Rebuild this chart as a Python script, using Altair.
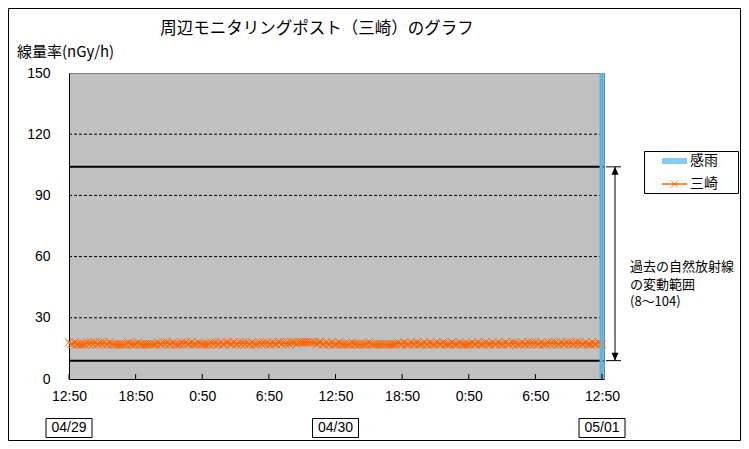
import json
import altair as alt
import pandas as pd

# ---------------- data ----------------
title_text = "周辺モニタリングポスト（三崎）のグラフ"
y_title = "線量率(nGy/h)"
series_name = "三崎"
rain_name = "感雨"
range_text = "過去の自然放射線\nの変動範囲\n(8～104)"

x_tick_hours = [0, 6, 12, 18, 24, 30, 36, 42, 48]
x_tick_labels = ["12:50", "18:50", "0:50", "6:50", "12:50", "18:50", "0:50", "6:50", "12:50"]
date_hours = [0, 24, 48]
date_labels = ["04/29", "04/30", "05/01"]
y_ticks = [0, 30, 60, 90, 120, 150]
grid_values = [30, 60, 90, 120]
range_lines = [9, 104]

rain_hours = [48]
rain_values = [150]

# 10-minute readings, 04/29 12:50 -> 05/01 12:50 (one row = one hour)
misaki = [
    18, 17, 17, 18, 17, 17,
    17, 17, 17, 17, 18, 17,
    18, 17, 18, 17, 17, 18,
    17, 18, 17, 17, 18, 17,
    17, 17, 17, 17, 17, 17,
    17, 17, 18, 17, 17, 17,
    17, 18, 17, 17, 17, 17,
    17, 17, 17, 17, 17, 17,
    18, 17, 17, 18, 17, 18,
    17, 17, 18, 17, 17, 17,
    17, 18, 17, 18, 17, 17,
    18, 17, 17, 17, 18, 17,
    17, 17, 17, 17, 17, 18,
    17, 18, 17, 17, 18, 17,
    17, 18, 18, 17, 17, 18,
    17, 17, 18, 17, 18, 17,
    18, 17, 17, 18, 17, 17,
    17, 18, 17, 18, 17, 18,
    17, 17, 18, 17, 17, 18,
    18, 17, 18, 17, 18, 17,
    18, 18, 18, 17, 18, 18,
    18, 18, 18, 18, 18, 18,
    18, 18, 17, 18, 18, 17,
    17, 18, 17, 17, 18, 17,
    17, 17, 18, 17, 17, 17,
    17, 17, 17, 18, 17, 17,
    17, 17, 17, 17, 17, 17,
    18, 17, 17, 17, 17, 17,
    17, 17, 17, 17, 17, 17,
    17, 17, 17, 17, 18, 17,
    17, 18, 17, 17, 17, 18,
    17, 17, 18, 17, 17, 17,
    18, 17, 17, 18, 17, 17,
    17, 18, 17, 17, 18, 17,
    17, 17, 17, 18, 17, 17,
    17, 18, 17, 17, 17, 17,
    17, 17, 18, 17, 17, 18,
    17, 17, 17, 18, 17, 17,
    17, 18, 17, 17, 18, 17,
    17, 17, 18, 17, 17, 18,
    17, 18, 17, 17, 17, 18,
    17, 17, 18, 17, 18, 17,
    18, 17, 17, 18, 17, 17,
    17, 18, 17, 18, 17, 18,
    17, 17, 18, 17, 17, 18,
    17, 18, 17, 17, 18, 17,
    18, 17, 17, 18, 17, 17,
    17, 18, 17, 17, 18, 17,
    17,
]

# ---------------- tables ----------------
line_df = pd.DataFrame({"h": [i / 6 for i in range(len(misaki))], "v": misaki})
rain_df = pd.DataFrame({"h": rain_hours, "v": rain_values})
grid_df = pd.DataFrame({"v": grid_values})
range_df = pd.DataFrame({"v": range_lines})
tick_df = pd.DataFrame({"h": x_tick_hours})
date_df = pd.DataFrame({"h": date_hours, "t": date_labels})
one = pd.DataFrame({"a": [0]})

W, H = 535, 306
SVG_W, SVG_H = 733, 433
PL, PT = 61, 65
XMAX = 48.18
ORANGE = "#FF6600"
XPATH = "M-1,-1L1,1M-1,1L1,-1"
CJK = "Noto Sans CJK JP"
LAT = "Liberation Sans"

xs = alt.Scale(domain=[0, XMAX], nice=False, zero=False)
ys = alt.Scale(domain=[0, 150], nice=False)

label_expr = json.dumps(x_tick_labels) + "[round(datum.value / 6)]"
x_axis = alt.Axis(values=x_tick_hours, labelExpr=label_expr, ticks=False, tickSize=0,
                  grid=False, domainColor="black", labelFont=LAT, labelFontSize=14,
                  labelColor="black", labelPadding=10, title=None, labelAngle=0,
                  labelFlush=False, labelOverlap=False)
y_axis = alt.Axis(values=y_ticks, ticks=False, tickSize=0, grid=False, domainColor="black",
                  labelFont=LAT, labelFontSize=14, labelColor="black", labelPadding=19,
                  title=None, labelOverlap=False)


def X():
    return alt.X("h:Q", scale=xs, axis=x_axis)


def Y():
    return alt.Y("v:Q", scale=ys, axis=y_axis)


grid = alt.Chart(grid_df).mark_rule(color="black", strokeWidth=1, strokeDash=[3, 2]).encode(
    y=Y(), x=alt.value(0), x2=alt.value(W))

ranges = alt.Chart(range_df).mark_rule(color="black", strokeWidth=2).encode(
    y=Y(), x=alt.value(0), x2=alt.value(W))

xticks = alt.Chart(tick_df).mark_rule(color="black", strokeWidth=1).encode(
    x=X(), y=alt.value(H), y2=alt.value(H - 5))

line = alt.Chart(line_df).mark_line(color=ORANGE, strokeWidth=2).encode(x=X(), y=Y())

points = alt.Chart(line_df).mark_point(shape=XPATH, size=64, color=ORANGE, strokeWidth=1,
                                       filled=False, opacity=1).encode(x=X(), y=Y())

rain = alt.Chart(rain_df).mark_rect(color="#5AB6DE", xOffset=-2.5, x2Offset=1.5).encode(
    x=X(), x2=alt.X2("h:Q"), y=Y(), y2=alt.datum(0))

# range annotation (arrow)
AX = 546
arrow_line = alt.Chart(range_df).mark_line(color="black", strokeWidth=1).encode(
    x=alt.value(AX), y=Y())
arrow_caps = alt.Chart(range_df).mark_rule(color="black", strokeWidth=1).encode(
    y=Y(), x=alt.value(AX - 9), x2=alt.value(AX + 6))
head_up = alt.Chart(range_df[range_df.v == range_lines[1]]).mark_point(
    shape="M0,0L-0.7,1.6L0.7,1.6Z", size=100, filled=True, color="black", opacity=1).encode(
    x=alt.value(AX), y=Y())
head_down = alt.Chart(range_df[range_df.v == range_lines[0]]).mark_point(
    shape="M0,0L-0.7,-1.6L0.7,-1.6Z", size=100, filled=True, color="black", opacity=1).encode(
    x=alt.value(AX), y=Y())
range_label = alt.Chart(one).mark_text(font=CJK, fontSize=13, align="left", baseline="middle",
                                       lineBreak="\n", lineHeight=17.5, color="black").encode(
    x=alt.value(561), y=alt.value(194), text=alt.value(range_text))

# date boxes
date_box = alt.Chart(date_df).mark_rect(fill="white", stroke="black", strokeWidth=1,
                                        xOffset=-23, x2Offset=23).encode(
    x=X(), x2=alt.X2("h:Q"), y=alt.value(345.5), y2=alt.value(364.5))
date_txt = alt.Chart(date_df).mark_text(font=LAT, fontSize=14, baseline="middle",
                                        color="black").encode(
    x=X(), y=alt.value(355), text="t:N")

# titles
title = alt.Chart(one).mark_text(font=CJK, fontSize=16.5, baseline="middle", align="center",
                                 color="black").encode(
    x=alt.value(248), y=alt.value(-44), text=alt.value(title_text))
ytitle = alt.Chart(one).mark_text(font=CJK, fontSize=15, baseline="middle", align="left",
                                  color="black").encode(
    x=alt.value(-52), y=alt.value(-21), text=alt.value(y_title))

# legend
LX = 575
leg_box = alt.Chart(one).mark_rect(fill="white", stroke="black", strokeWidth=1).encode(
    x=alt.value(LX + 0.5), x2=alt.value(LX + 94.5), y=alt.value(78.5), y2=alt.value(120.5))
leg_rain = alt.Chart(one).mark_rect(color="#7FCFF4").encode(
    x=alt.value(LX + 18), x2=alt.value(LX + 43), y=alt.value(85), y2=alt.value(91))
leg_line = alt.Chart(one).mark_rule(color=ORANGE, strokeWidth=1.5).encode(
    x=alt.value(LX + 18), x2=alt.value(LX + 43), y=alt.value(111))
leg_mark = alt.Chart(one).mark_point(shape=XPATH, size=49, color=ORANGE, strokeWidth=1,
                                     filled=False, opacity=1).encode(
    x=alt.value(LX + 30.5), y=alt.value(111))
leg_t1 = alt.Chart(one).mark_text(font=CJK, fontSize=14, align="left", baseline="middle",
                                  color="black").encode(
    x=alt.value(LX + 46), y=alt.value(88), text=alt.value(rain_name))
leg_t2 = alt.Chart(one).mark_text(font=CJK, fontSize=14, align="left", baseline="middle",
                                  color="black").encode(
    x=alt.value(LX + 46), y=alt.value(111), text=alt.value(series_name))

frame = alt.Chart(one).mark_rect(fillOpacity=0, stroke="black", strokeWidth=1).encode(
    x=alt.value(-PL + 0.5), x2=alt.value(SVG_W - PL - 0.5),
    y=alt.value(-PT + 0.5), y2=alt.value(SVG_H - PT - 0.5))

chart = alt.layer(
    grid, ranges, line, points, rain, xticks,
    arrow_line, arrow_caps, head_up, head_down, range_label,
    date_box, date_txt, title, ytitle,
    leg_box, leg_rain, leg_line, leg_mark, leg_t1, leg_t2, frame,
).properties(
    width=W, height=H,
    autosize=alt.AutoSizeParams(type="none"),
    padding={"left": PL, "top": PT, "right": SVG_W - PL - W, "bottom": SVG_H - PT - H},
    background="white",
).configure_view(fill="#C0C0C0", stroke="#808080", strokeWidth=1)

chart.save("out.html", embed_options={"renderer": "svg", "actions": False})
